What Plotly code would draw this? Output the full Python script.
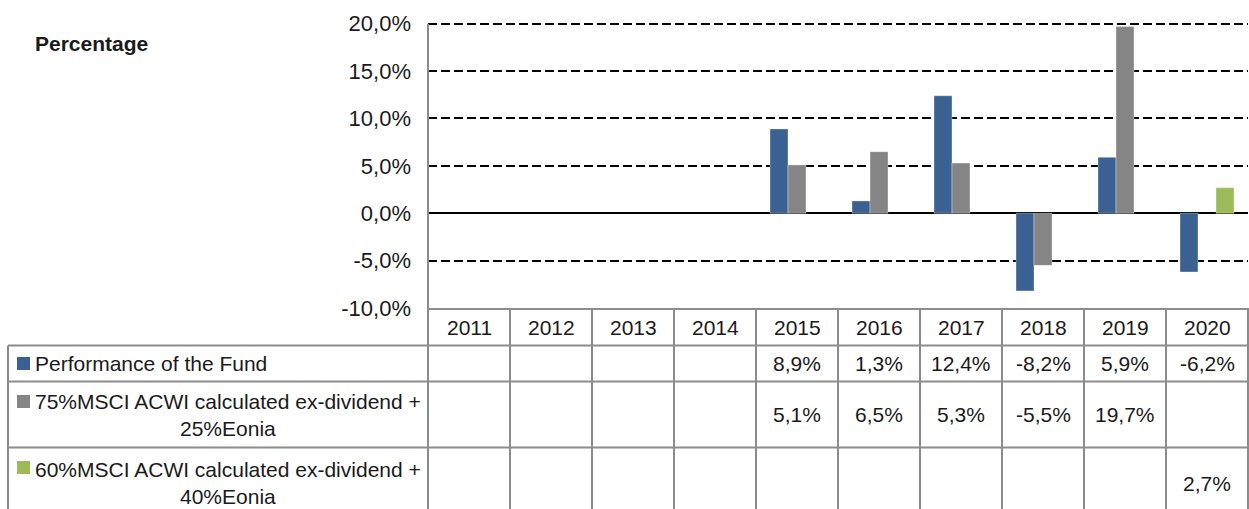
import plotly.graph_objects as go

# ---------------- data ----------------
years = ["2011", "2012", "2013", "2014", "2015", "2016", "2017", "2018", "2019", "2020"]
fund = [None, None, None, None, 8.9, 1.3, 12.4, -8.2, 5.9, -6.2]
bench_75 = [None, None, None, None, 5.1, 6.5, 5.3, -5.5, 19.7, None]
bench_60 = [None, None, None, None, None, None, None, None, None, 2.7]
series_names = [
    "Performance of the Fund",
    "75%MSCI ACWI calculated ex-dividend +<br>25%Eonia",
    "60%MSCI ACWI calculated ex-dividend +<br>40%Eonia",
]
series_values = [fund, bench_75, bench_60]
series_colors = ["#3A6192", "#858585", "#9BBB59"]
y_tick_vals = [-10, -5, 0, 5, 10, 15, 20]
y_tick_labels = ["-10,0%", "-5,0%", "0,0%", "5,0%", "10,0%", "15,0%", "20,0%"]
y_title = "Percentage"

# ---------------- layout geometry ----------------
W, H = 1249, 509
L, R, T, B = 428, 1, 19, 201
PW = W - L - R
PH = H - T - B
FONT = "Liberation Sans, Arial, sans-serif"
GRAYLINE = "#8c8c8c"
TXT = "#1a1a1a"
Y_RANGE = [-10, 20.5]


def px_x(px):
    return (px - L) / PW


def px_y(py):
    return (H - B - py) / PH


# table rows (pixel rows)
header_row = (308, 345.5)
rows = [(345.5, 381.5), (381.5, 447.5), (447.5, 519)]
row_centers = [363.5, 414.5, 483]
table_left = 8
table_bottom = 520

fig = go.Figure()
for name, vals, col in zip(series_names, series_values, series_colors):
    fig.add_trace(go.Bar(
        x=years, y=vals, name=name.replace("<br>", " "),
        marker=dict(color=col, line=dict(color="rgba(255,255,255,0.35)", width=1)),
        showlegend=False,
    ))

shapes = []
# value-axis line from the lowest to the highest tick
shapes.append(dict(type="line", xref="paper", yref="y", x0=0, x1=0,
                   y0=y_tick_vals[0], y1=y_tick_vals[-1],
                   line=dict(color=GRAYLINE, width=2)))
# horizontal table lines
shapes.append(dict(type="line", xref="paper", yref="paper", x0=px_x(table_left), x1=1,
                   y0=px_y(rows[0][0]), y1=px_y(rows[0][0]),
                   line=dict(color=GRAYLINE, width=2)))
for r0, r1 in rows[:-1]:
    shapes.append(dict(type="line", xref="paper", yref="paper", x0=px_x(table_left), x1=1,
                       y0=px_y(r1), y1=px_y(r1), line=dict(color=GRAYLINE, width=2)))
# left border of label column
shapes.append(dict(type="line", xref="paper", yref="paper", x0=px_x(table_left), x1=px_x(table_left),
                   y0=px_y(rows[0][0]), y1=px_y(table_bottom), line=dict(color=GRAYLINE, width=2)))
# axis line extension and right border
for xp in (0, 1):
    shapes.append(dict(type="line", xref="paper", yref="paper", x0=xp, x1=xp,
                       y0=px_y(header_row[0]), y1=px_y(table_bottom),
                       line=dict(color=GRAYLINE, width=2)))
# column separators via category axis
for i in range(1, len(years)):
    shapes.append(dict(type="line", xref="x", yref="paper", x0=i - 0.5, x1=i - 0.5,
                       y0=px_y(header_row[0]), y1=px_y(table_bottom),
                       line=dict(color=GRAYLINE, width=2)))
# legend keys
key_rows = [(357, 370), (395, 408), (461, 474)]
for (k0, k1), col in zip(key_rows, series_colors):
    shapes.append(dict(type="rect", xref="paper", yref="paper", x0=px_x(17), x1=px_x(30),
                       y0=px_y(k1), y1=px_y(k0), fillcolor=col, line=dict(width=0)))

annotations = []
annotations.append(dict(text="<b>" + y_title + "</b>", xref="paper", yref="paper",
                        x=px_x(33), y=px_y(43), xanchor="left", yanchor="middle",
                        showarrow=False, font=dict(family=FONT, size=21, color=TXT)))
# header years (category index on the x axis)
for i, yr in enumerate(years):
    annotations.append(dict(text=yr, xref="x", yref="paper", x=i,
                            y=px_y((header_row[0] + header_row[1]) / 2 + 1),
                            xanchor="center", yanchor="middle", showarrow=False,
                            font=dict(family=FONT, size=21, color=TXT)))
# series labels + values
for idx, name in enumerate(series_names):
    cy = row_centers[idx]
    if "<br>" in name:
        annotations.append(dict(text=name, xref="paper", yref="paper", x=px_x(228), y=px_y(cy),
                                xanchor="center", yanchor="middle", align="center", showarrow=False,
                                font=dict(family=FONT, size=21, color=TXT)))
    else:
        annotations.append(dict(text=name, xref="paper", yref="paper", x=px_x(33), y=px_y(cy),
                                xanchor="left", yanchor="middle", showarrow=False,
                                font=dict(family=FONT, size=21, color=TXT)))
    for i, v in enumerate(series_values[idx]):
        if v is None:
            continue
        annotations.append(dict(text=f"{v:.1f}".replace(".", ",") + "%", xref="x", yref="paper",
                                x=i, y=px_y(cy), xanchor="center", yanchor="middle",
                                showarrow=False, font=dict(family=FONT, size=21, color=TXT)))

fig.update_layout(
    width=W, height=H,
    margin=dict(l=L, r=R, t=T, b=B, pad=0),
    paper_bgcolor="white", plot_bgcolor="white",
    barmode="group", bargap=0.3415, bargroupgap=0,
    shapes=shapes, annotations=annotations,
    font=dict(family=FONT, color=TXT),
    xaxis=dict(type="category", showticklabels=False, showgrid=False, ticks="",
               showline=True, linecolor=GRAYLINE, linewidth=2, range=[-0.5, 9.5]),
    yaxis=dict(range=Y_RANGE, tickvals=y_tick_vals, ticktext=y_tick_labels,
               showgrid=True, gridcolor="black", gridwidth=2, griddash="9px,4px",
               zeroline=True, zerolinecolor="black", zerolinewidth=2,
               showline=False, ticks="",
               ticklabelstandoff=16,
               tickfont=dict(family=FONT, size=22, color=TXT)),
)

fig.write_html("out.html")
